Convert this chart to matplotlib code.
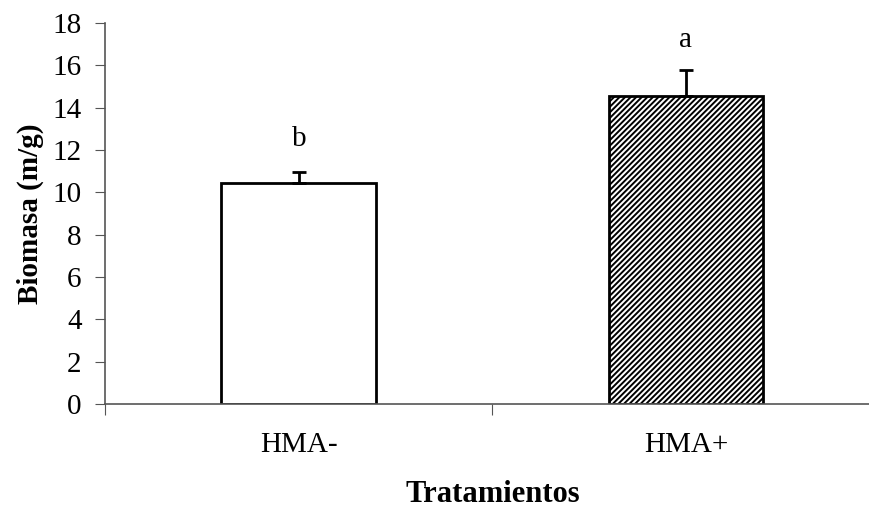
import matplotlib.pyplot as plt
import numpy as np

plt.rcParams['font.family'] = ['Liberation Serif', 'DejaVu Serif']
plt.rcParams['hatch.linewidth'] = 1.4

# data
tratamientos = ['HMA-', 'HMA+']
biomasa = [10.45, 14.55]
error = [0.5, 1.25]
letras = ['b', 'a']
letra_y = [12.5, 17.2]

fig = plt.figure(figsize=(8.7, 5.17), dpi=100)
ax = fig.add_axes([0.121, 0.2186, 0.89, 0.737])

x = np.arange(len(tratamientos))
bars = ax.bar(x, biomasa, width=0.4, color='white', edgecolor='black', linewidth=2, zorder=2)
bars[1].set_hatch('//////')
ax.errorbar(x, biomasa, yerr=[np.zeros(len(error)), error], fmt='none',
            ecolor='black', elinewidth=2, capsize=5, capthick=2, zorder=3)

for xi, txt, yi in zip(x, letras, letra_y):
    ax.text(xi, yi, txt, ha='center', va='center', fontsize=21)

ax.set_xlim(-0.5, 1.5)
ax.set_ylim(0, 18)
ax.set_yticks(np.arange(0, 19, 2))
ax.set_xticks([-0.5, 0.5, 1.5])
ax.set_xticklabels([])
ax.set_xticks(x, minor=True)
ax.set_xticklabels(tratamientos, minor=True)
ax.tick_params(axis='x', which='minor', length=0, pad=20, labelsize=21)
ax.tick_params(axis='x', which='major', length=8, color='#555555', direction='out')
ax.tick_params(axis='y', length=7, color='#555555', labelsize=21, pad=10)

for s in ['top', 'right']:
    ax.spines[s].set_visible(False)
for s in ['left', 'bottom']:
    ax.spines[s].set_color('#555555')
    ax.spines[s].set_linewidth(1.2)

ax.set_ylabel('Biomasa (m/g)', fontsize=21, fontweight='bold', labelpad=6)
fig.text(0.567, 0.043, 'Tratamientos', ha='center', va='center', fontsize=22, fontweight='bold')

plt.savefig('out.png', dpi=100)
